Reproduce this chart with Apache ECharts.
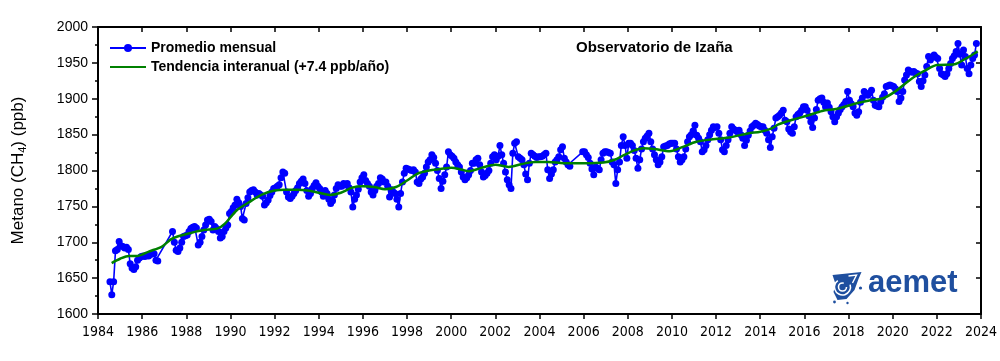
<!DOCTYPE html>
<html><head><meta charset="utf-8">
<script src="https://cdn.jsdelivr.net/npm/echarts@6/dist/echarts.min.js"></script>
<style>html,body{margin:0;padding:0;background:#fff}#c{width:1000px;height:361px}</style>
</head><body><div id="c"></div>
<script>
// ---- data ----
const firstYear = 1984;
// monthly means (Jan..Dec), one row per year from 1984; null = no data
const monthlyRows = [
  [null,null,null,null,null,null,1645,1627,1645,1688,1690,1701], // 1984
  [1695,1694,1692,1693,1690,1670,1664,1662,1666,1675,1678,1680], // 1985
  [1681,1680,1682,1681,1683,1684,1684,1675,1674,null,null,null], // 1986
  [null,null,null,null,1715,1700,1689,1687,1692,1700,1708,1709], // 1987
  [1710,1715,1719,1721,1722,1720,1696,1700,1708,1717,1724,1731], // 1988
  [1732,1729,1717,1722,1719,1715,1706,1708,1715,1720,1724,1740], // 1989
  [1743,1748,1752,1760,1755,1750,1733,1731,1754,1762,1770,1772], // 1990
  [1773,1770,1766,1768,1766,1764,1752,1755,1759,1765,1770,1775], // 1991
  [1776,1778,1780,1790,1798,1796,1770,1763,1761,1764,1768,1772], // 1992
  [1776,1782,1785,1788,1782,1772,1764,1768,1775,1779,1783,1778], // 1993
  [1775,1770,1764,1772,1768,1760,1754,1758,1766,1775,1780,1778], // 1994
  [1778,1782,1780,1782,1776,1770,1749,1760,1766,1774,1784,1790], // 1995
  [1794,1786,1782,1778,1770,1766,1772,1778,1782,1790,1788,1784], // 1996
  [1784,1778,1763,1773,1770,1768,1760,1749,1768,1784,1796,1803], // 1997
  [1802,1801,1800,1801,1798,1784,1782,1788,1791,1796,1805,1812], // 1998
  [1815,1822,1818,1810,1800,1789,1775,1785,1794,1805,1826,1822], // 1999
  [1820,1817,1812,1808,1805,1798,1791,1787,1790,1794,1800,1810], // 2000
  [1810,1815,1817,1808,1798,1791,1793,1796,1800,1810,1819,1822], // 2001
  [1815,1820,1835,1822,1810,1798,1787,1780,1775,1824,1838,1840], // 2002
  [1819,1817,1815,1808,1795,1787,1810,1824,1822,1820,1818,1819], // 2003
  [1819,1820,1822,1824,1801,1789,1795,1801,1812,1815,1819,1829], // 2004
  [1833,1817,1812,1808,1806,null,null,null,null,null,null,1826], // 2005
  [1826,1822,1818,1810,1802,1794,1805,1803,1801,1815,1824,1826], // 2006
  [1826,1825,1824,1812,1808,1782,1801,1812,1835,1847,1835,1817], // 2007
  [1838,1838,1835,1828,1817,1803,1815,1830,1840,1845,1848,1852], // 2008
  [1840,1830,1822,1815,1808,1812,1819,1833,1834,1835,1837,1838], // 2009
  [1838,1838,1830,1819,1812,1815,1819,1830,1840,1847,1850,1855], // 2010
  [1863,1849,1845,1840,1826,1829,1835,1843,1850,1856,1861,1860], // 2011
  [1861,1852,1843,1829,1826,1835,1843,1852,1861,1858,1856,1854], // 2012
  [1856,1850,1845,1835,1842,1849,1855,1861,1863,1866,1864,1862], // 2013
  [1861,1861,1856,1852,1843,1832,1847,1859,1873,1875,1877,1880], // 2014
  [1884,1870,1868,1858,1854,1852,1861,1875,1878,1880,1884,1889], // 2015
  [1889,1884,1876,1868,1860,1873,1885,1898,1900,1901,1895,1889], // 2016
  [1894,1888,1882,1875,1868,1875,1880,1885,1889,1892,1896,1910], // 2017
  [1898,1893,1889,1880,1877,1882,1895,1901,1910,1907,1905,1908], // 2018
  [1912,1898,1891,1890,1889,1896,1902,1907,1917,1918,1919,1918], // 2019
  [1917,1914,1910,1896,1901,1910,1926,1933,1940,1938,1937,1938], // 2020
  [1936,1935,1924,1917,1925,1933,1945,1959,1954,1958,1961,1958], // 2021
  [1956,1942,1935,1933,1931,1935,1942,1949,1956,1960,1966,1977], // 2022
  [1962,1947,1968,1959,1942,1935,1947,1956,1961,1977,null,null]  // 2023
];
const trendYears = [1984.62,1985.0,1985.4,1985.8,1986.3,1986.9,1987.3,1987.6,1988.2,1988.8,1989.4,1989.75,1990.3,1990.8,1991.4,1992.0,1992.5,1993.0,1993.5,1994.0,1994.5,1995.0,1995.5,1996.0,1996.5,1997.0,1997.5,1998.0,1998.5,1999.0,1999.5,2000.0,2000.5,2000.8,2001.3,2002.0,2002.6,2003.2,2003.8,2004.4,2005.1,2006.0,2006.9,2007.4,2007.8,2008.3,2008.7,2009.2,2009.9,2010.5,2011.1,2011.7,2012.6,2013.5,2014.0,2014.55,2014.8,2015.5,2016.2,2016.8,2017.5,2018.4,2019.0,2019.6,2020.2,2020.6,2021.1,2021.5,2022.0,2022.8,2023.2,2023.7,2023.85];
const trendValues = [1671,1677,1681,1681,1687,1694,1704,1708,1713,1717,1719,1726,1745,1755,1766,1772,1773,1773,1772,1769,1766,1769,1776,1778,1777,1774,1777,1786,1796,1800,1802,1804,1801,1799,1803,1808,1805,1809,1812,1812,1810,1810,1811,1815,1821,1828,1831,1830,1827,1833,1840,1843,1846,1852,1854,1859,1864,1871,1877,1883,1886,1894,1898,1901,1912,1922,1933,1940,1947,1948,1954,1963,1966];
const xRange = [1984, 2024, 2];
const yRange = [1600, 2000, 50];
const seriesNames = ['Promedio mensual', 'Tendencia interanual (+7.4 ppb/año)'];
const chartTitle = 'Observatorio de Izaña';

// ---- build ----
const monthlyData = [];
monthlyRows.forEach((row, i) => row.forEach((v, m) => {
  if (v !== null) monthlyData.push([firstYear + i + (m + 0.5) / 12, v]);
}));
const trendData = trendYears.map((y, i) => [y, trendValues[i]]);

const axisCol = '#000';
const font = "'Liberation Sans', Arial, sans-serif";
const narrow = "'Liberation Sans Narrow', 'DejaVu Sans Condensed', 'Arial Narrow', sans-serif";
const line = {show: true, lineStyle: {color: axisCol, width: 2}};
const logoBlue = '#1f4f9f';

const chart = echarts.init(document.getElementById('c'), null, {renderer: 'canvas'});
chart.setOption({
  animation: false,
  backgroundColor: '#fff',
  title: {text: chartTitle, left: 576, top: 40, padding: 0,
    textStyle: {fontSize: 15, fontWeight: 'bold', color: '#000', fontFamily: font}},
  legend: {
    orient: 'vertical', left: 109, top: 41, padding: 0, itemWidth: 36, itemHeight: 10, itemGap: 5,
    textStyle: {fontSize: 14, fontWeight: 'bold', color: '#000', fontFamily: font},
    data: [
      {name: seriesNames[0]},
      {name: seriesNames[1], itemStyle: {opacity: 0}}
    ]
  },
  grid: {left: 98, right: 17, top: 27, bottom: 47},
  xAxis: [
    {type: 'value', min: xRange[0], max: xRange[1], interval: xRange[2], position: 'bottom',
     axisLine: line, axisTick: {show: true, length: 5, lineStyle: {color: axisCol, width: 1.5}},
     axisLabel: {color: '#000', fontSize: 14, fontFamily: narrow, margin: 11, formatter: v => String(v)},
     splitLine: {show: false}},
    {type: 'value', min: xRange[0], max: xRange[1], interval: xRange[2], position: 'top',
     axisLine: line, axisTick: {show: true, inside: true, length: 5, lineStyle: {color: axisCol, width: 1.5}},
     axisLabel: {show: false}, splitLine: {show: false}}
  ],
  yAxis: [
    {type: 'value', min: yRange[0], max: yRange[1], interval: yRange[2], position: 'left',
     name: '{n|Metano (CH}{s|4}{n|) (ppb)}', nameLocation: 'middle', nameGap: 70,
     nameTextStyle: {color: '#000', fontFamily: font,
       rich: {n: {fontSize: 17, fontFamily: font, color: '#000'},
              s: {fontSize: 11, fontFamily: font, color: '#000', verticalAlign: 'bottom', padding: [9, 0, 0, 0]}}},
     axisLine: line, axisTick: {show: true, length: 6, lineStyle: {color: axisCol, width: 1.5}},
     minorTick: {show: true, splitNumber: 2, length: 3, lineStyle: {color: axisCol, width: 1.5}},
     axisLabel: {color: '#000', fontSize: 14, fontFamily: font, margin: 10, formatter: v => String(v)},
     splitLine: {show: false}},
    {type: 'value', min: yRange[0], max: yRange[1], interval: yRange[2], position: 'right',
     axisLine: line, axisTick: {show: true, inside: true, length: 5, lineStyle: {color: axisCol, width: 1.5}},
     axisLabel: {show: false}, splitLine: {show: false}}
  ],
  series: [
    {name: seriesNames[0], type: 'line', data: monthlyData, xAxisIndex: 0, yAxisIndex: 0,
     color: '#0000ff', lineStyle: {color: '#0000ff', width: 1.6},
     symbol: 'circle', symbolSize: 7, showSymbol: true, showAllSymbol: true,
     itemStyle: {color: '#0000ff'}, z: 2},
    {name: seriesNames[1], type: 'line', data: trendData, xAxisIndex: 0, yAxisIndex: 0,
     color: '#008000', lineStyle: {color: '#008000', width: 2.5},
     symbol: 'none', smooth: 0.3, z: 3}
  ],
  graphic: [
    {type: 'group', left: 832, top: 272, children: [
      {type: 'polygon', shape: {points: [[1,3],[30,0],[27,7],[23,18],[15,27],[6,28],[2,20],[4,12]]},
       style: {fill: logoBlue}},
      {type: 'arc', shape: {cx: 11, cy: 15, r: 4, startAngle: 0, endAngle: Math.PI * 1.6},
       style: {stroke: '#fff', lineWidth: 1.6, fill: null}},
      {type: 'arc', shape: {cx: 11, cy: 15, r: 8, startAngle: -0.3, endAngle: Math.PI * 1.3},
       style: {stroke: '#fff', lineWidth: 1.6, fill: null}},
      {type: 'polyline', shape: {points: [[17,4],[25,3],[21,11]]},
       style: {stroke: '#fff', lineWidth: 1.4, fill: null}},
      {type: 'circle', shape: {cx: 29, cy: 16, r: 1.6}, style: {fill: logoBlue}},
      {type: 'circle', shape: {cx: 3, cy: 30, r: 1.4}, style: {fill: logoBlue}},
      {type: 'circle', shape: {cx: 16, cy: 31, r: 1.2}, style: {fill: logoBlue}}
    ]},
    {type: 'text', left: 868, top: 268,
     style: {text: 'aemet', fontSize: 31, fontWeight: 'bold', fontFamily: font, fill: logoBlue}}
  ]
});
</script></body></html>
